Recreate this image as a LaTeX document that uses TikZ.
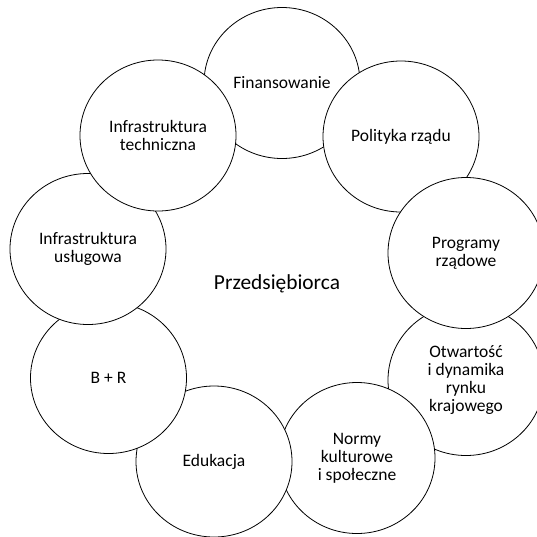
\documentclass[tikz,border=0pt]{standalone}
\usepackage{fontspec}
\setmainfont{Carlito}
\usetikzlibrary{shapes.geometric}
\begin{document}
\begin{tikzpicture}[x=1pt,y=-1pt,
  factor/.style={ellipse, draw=black, line width=0.8pt, fill=white,
    minimum width=156pt, minimum height=151pt, inner sep=0pt,
    align=center, font=\fontsize{17.5}{17.8}\selectfont},
  core/.style={font=\fontsize{21.4}{25}\selectfont}]
\useasboundingbox (0,0) rectangle (537,536);
% circles drawn bottom to top, so each overlap shows the right outline
\node[factor] (fin)  at (282,83)    {Finansowanie};
\node[factor] (pol)  at (401,136.5) {Polityka rządu};
\node[factor] (otw)  at (466,380)   {Otwartość\\i dynamika\\rynku\\krajowego};
\node[factor] (prog) at (466,253)   {Programy\\rządowe};
\node[factor] (norm) at (357,458)   {Normy\\kulturowe\\i społeczne};
\node[factor] (edu)  at (214,461.5) {Edukacja};
\node[factor] (br)   at (108.5,378) {B + R};
\node[factor] (usl)  at (88,249)    {Infrastruktura\\usługowa};
\node[factor] (tech) at (158,135.5) {Infrastruktura\\techniczna};
\node[core] (center) at (277,283.5) {Przedsiębiorca};
\end{tikzpicture}
\end{document}
